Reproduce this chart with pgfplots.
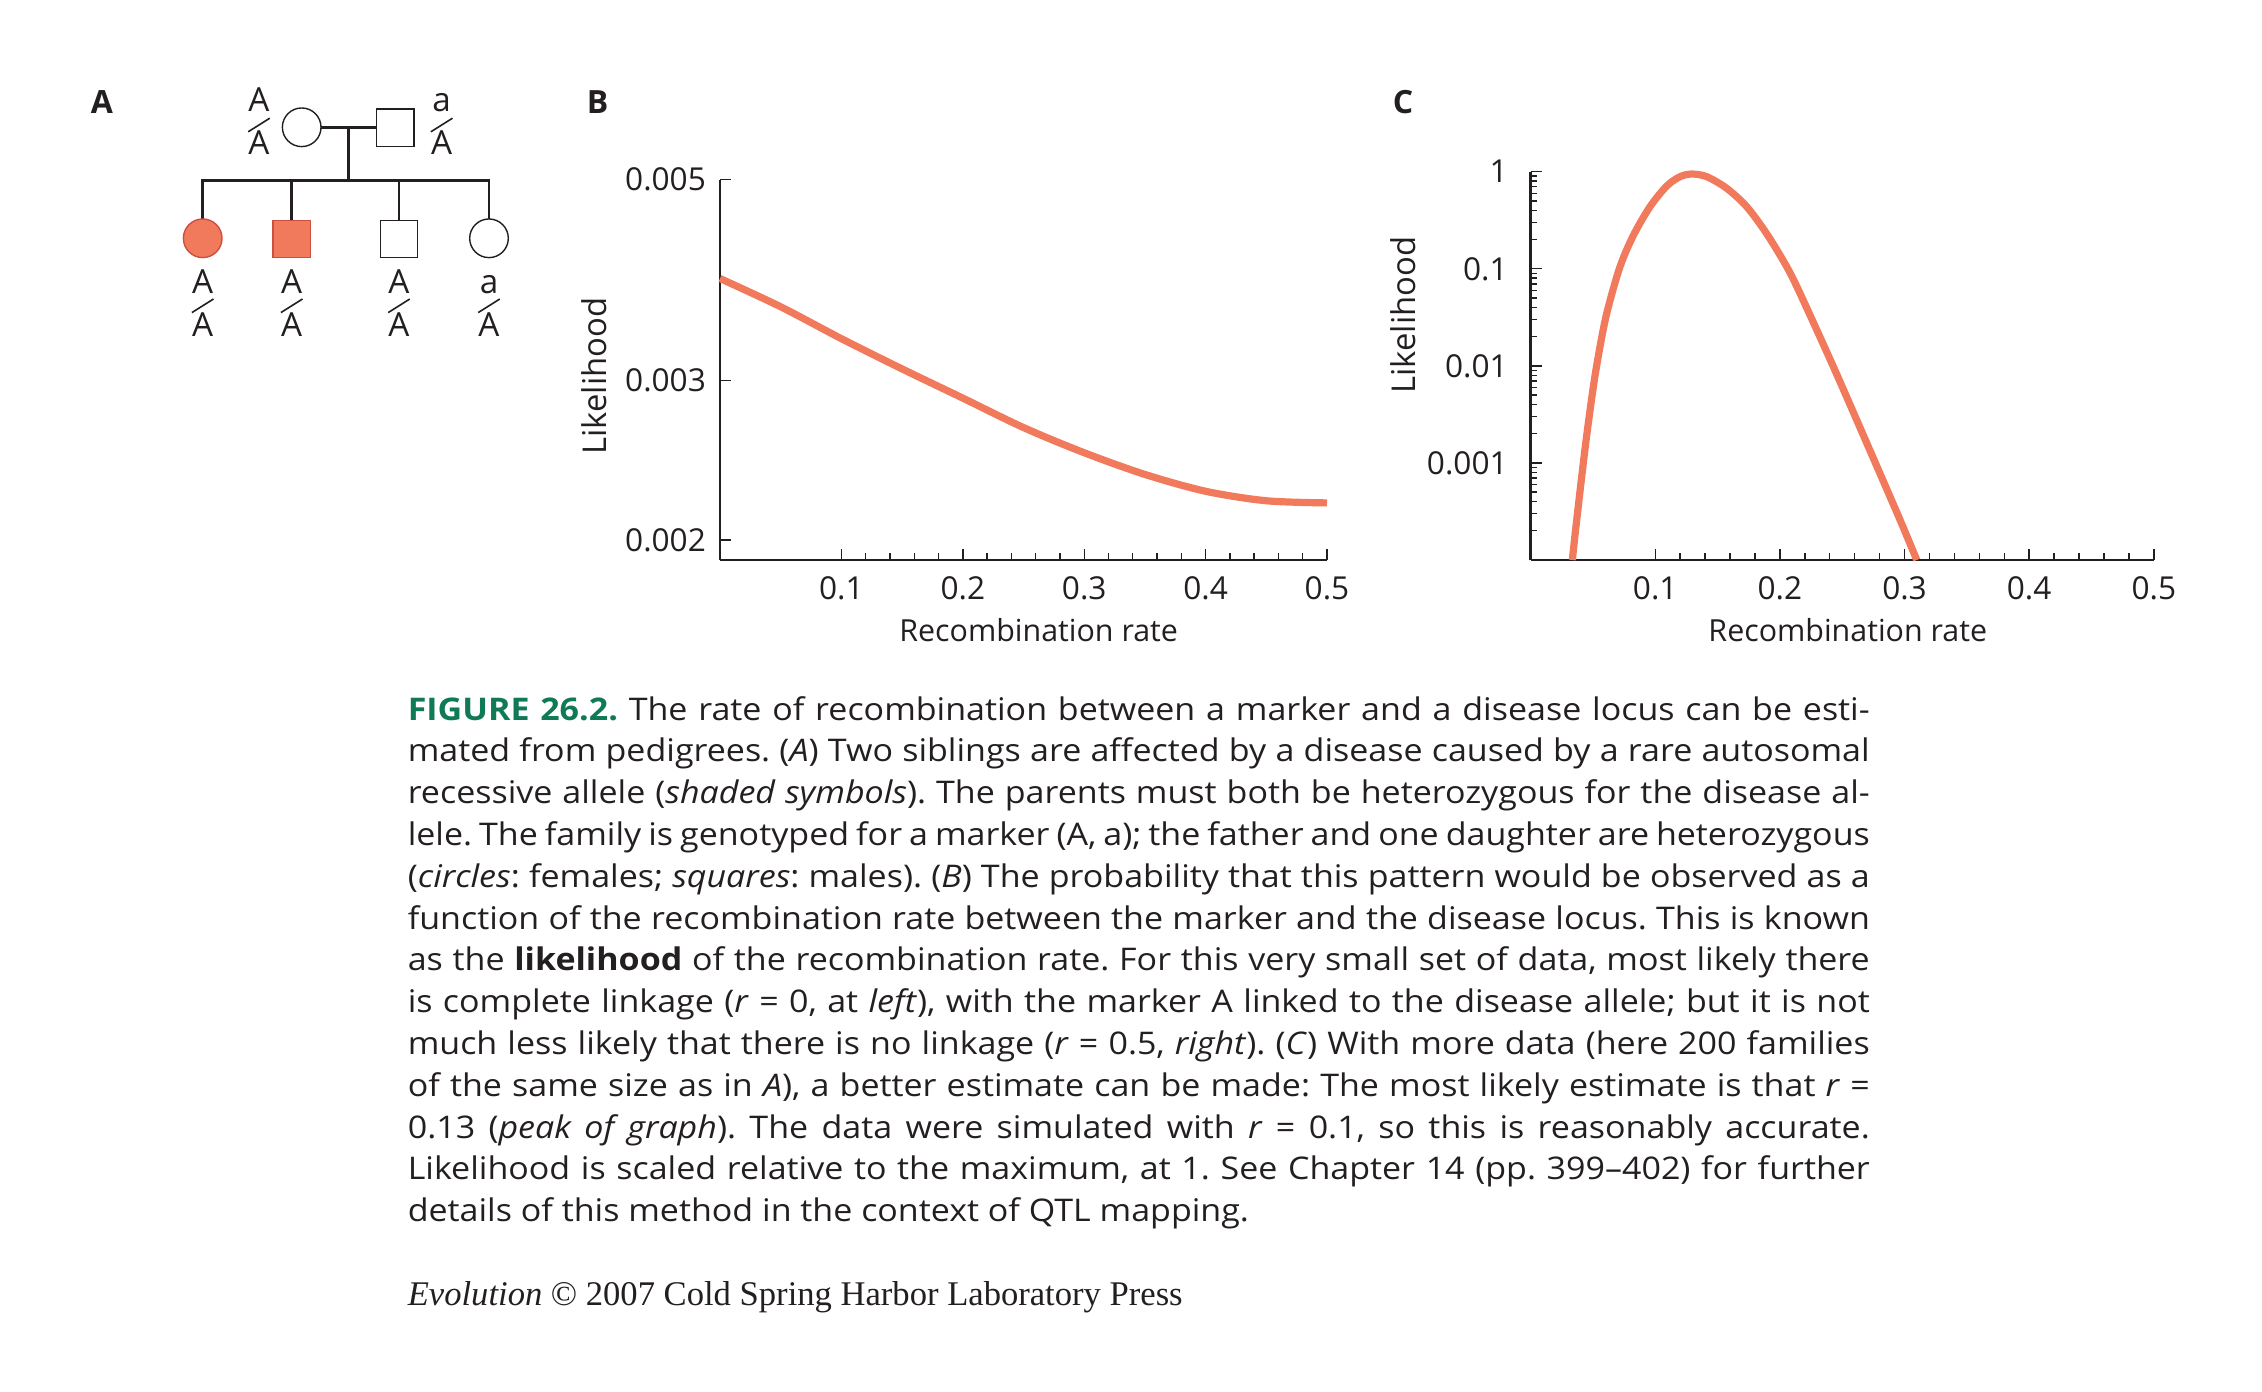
\documentclass[border=0pt]{standalone}
\usepackage{pgfplots}
\pgfplotsset{compat=1.18}
\usepackage{fontspec}
\setmainfont{Open Sans}
\setsansfont{Open Sans}
\newfontfamily\capfam{Open Sans}[FakeStretch=1.09]
\newfontfamily\crfont{Liberation Serif}
\definecolor{salmon}{RGB}{241,122,92}
\definecolor{salmondark}{RGB}{205,80,62}
\definecolor{figgreen}{RGB}{16,122,86}
\definecolor{txt}{RGB}{35,31,32}
\newcommand{\axfont}{\fontsize{7.9}{9}\selectfont}
\newcommand{\pedfont}{\fontsize{8.3}{9}\selectfont}
\newcommand{\capfont}{\capfam\fontsize{7.8}{10.45}\selectfont\frenchspacing}
\newcommand{\capline}[2]{\node[anchor=base west, inner sep=0pt, text=txt, font=\capfont] at (101.75pt,#1) {\hbox to 365.5pt{#2}};}

\pgfplotstableread{
r L
0.00 0.003888
0.05 0.003618
0.10 0.003336
0.15 0.003089
0.20 0.002868
0.25 0.002661
0.30 0.002496
0.35 0.002362
0.40 0.002263
0.45 0.002209
0.50 0.002197
}\tableB

\pgfplotstableread{
r L
0.0335 0.0001
0.0360 0.00020
0.0423 0.0010
0.0470 0.0030
0.0525 0.0092
0.0605 0.0323
0.0715 0.103
0.0824 0.220
0.0958 0.436
0.1092 0.712
0.1199 0.889
0.1293 0.946
0.1413 0.889
0.1573 0.675
0.1734 0.436
0.1894 0.230
0.2055 0.105
0.2161 0.056
0.2429 0.0098
0.2697 0.0016
0.2964 0.000259
0.3098 0.0001
}\tableC

\pgfplotsset{
  panel/.style={
    scale only axis,
    axis lines=left,
    axis line style={-, line width=0.67pt, color=txt},
    every tick/.style={line width=0.35pt, color=txt},
    tick align=inside,
    major tick length=2.8pt,
    minor tick length=1.7pt,
    xmin=0, xmax=0.5,
    xtick={0.1,0.2,0.3,0.4,0.5},
    xticklabels={0.1,0.2,0.3,0.4,0.5},
    minor x tick num=4,
    ticklabel style={font=\axfont, text=txt},
    xticklabel style={yshift=-0.6pt},
    xlabel style={font=\fontsize{7.6}{9}\selectfont, text=txt},
    ylabel style={font=\fontsize{8.2}{9}\selectfont, text=txt},
  }
}

\begin{document}
\begin{tikzpicture}
\path[use as bounding box] (0pt,0pt) rectangle (565.5pt,-348pt);

% ---------- Panel A: pedigree ----------
\begin{axis}[at={(0pt,-348pt)}, anchor=south west, scale only axis,
  width=565.5pt, height=348pt, xmin=0, xmax=2262, ymin=-1392, ymax=0,
  hide axis, clip=false]
\addplot[txt, line width=0.67pt] coordinates {(321,-127.3) (376.7,-127.3)};
\addplot[txt, line width=0.67pt] coordinates {(348.3,-127.3) (348.3,-180.7)};
\addplot[txt, line width=0.67pt, line cap=rect] coordinates {(202.7,-219) (202.7,-180.7) (489,-180.7) (489,-219)};
\addplot[txt, line width=0.67pt] coordinates {(291.7,-180.7) (291.7,-220.5)};
\addplot[txt, line width=0.67pt] coordinates {(399,-180.7) (399,-220.5)};
\addplot[only marks, mark=*, mark size=4.83pt, mark options={fill=white, draw=txt, line width=0.35pt}] coordinates {(301.7,-127.3) (489,-238.3)};
\addplot[only marks, mark=square*, mark size=4.63pt, mark options={fill=white, draw=txt, line width=0.35pt}] coordinates {(395.3,-127.7) (399,-239)};
\addplot[only marks, mark=*, mark size=4.83pt, mark options={fill=salmon, draw=salmondark, line width=0.35pt}] coordinates {(202.7,-238.3)};
\addplot[only marks, mark=square*, mark size=4.63pt, mark options={fill=salmon, draw=salmondark, line width=0.35pt}] coordinates {(291.7,-239)};
% genotype slashes
\addplot[txt, line width=0.4pt] coordinates {(248.2,-131.8) (269.8,-118.2)};
\addplot[txt, line width=0.4pt] coordinates {(430.9,-131.8) (452.5,-118.2)};
\addplot[txt, line width=0.4pt] coordinates {(191.9,-312.6) (213.5,-299)};
\addplot[txt, line width=0.4pt] coordinates {(280.9,-312.6) (302.5,-299)};
\addplot[txt, line width=0.4pt] coordinates {(388.2,-312.6) (409.8,-299)};
\addplot[txt, line width=0.4pt] coordinates {(478.2,-312.6) (499.8,-299)};
% genotype letters
\begin{scope}[every node/.style={anchor=base, inner sep=0pt, text=txt, font=\pedfont}]
\node at (axis cs:259,-111.7) {A};
\node at (axis cs:259,-155) {A};
\node at (axis cs:441.7,-111.7) {a};
\node at (axis cs:441.7,-155) {A};
\node at (axis cs:202.7,-293.3) {A};
\node at (axis cs:202.7,-336.7) {A};
\node at (axis cs:291.7,-293.3) {A};
\node at (axis cs:291.7,-336.7) {A};
\node at (axis cs:399,-293.3) {A};
\node at (axis cs:399,-336.7) {A};
\node at (axis cs:489,-293.3) {a};
\node at (axis cs:489,-336.7) {A};
\end{scope}
\end{axis}

% panel letters
\node[anchor=base west, inner sep=0pt, text=txt, font=\bfseries\fontsize{8}{9}\selectfont] at (22.5pt,-28.3pt) {A};
\node[anchor=base west, inner sep=0pt, text=txt, font=\bfseries\fontsize{8}{9}\selectfont] at (146.5pt,-28.3pt) {B};
\node[anchor=base west, inner sep=0pt, text=txt, font=\bfseries\fontsize{8}{9}\selectfont] at (348pt,-28.3pt) {C};

% ---------- Panel B ----------
\begin{axis}[ymode=log, panel, at={(180pt,-140pt)}, anchor=south west,
  width=151.75pt, height=95.125pt,
  ymin=0.0019, ymax=0.005,
  ytick={0.002,0.003,0.005}, yticklabels={0.002,0.003,0.005},
  yminorticks=false,
  xlabel={Recombination rate}, ylabel={Likelihood},
  xlabel style={at={(axis description cs:0.525,-0.185)}, anchor=center},
  ylabel style={at={(axis description cs:-0.207,0.4836)}, anchor=center},
  clip=false]
\addplot[salmon, line width=1.8pt, smooth] table[x=r, y=L] {\tableB};
\end{axis}

% ---------- Panel C ----------
\begin{axis}[ymode=log, panel, at={(382.65pt,-140pt)}, anchor=south west,
  width=155.8pt, height=97.075pt,
  ymin=0.0001, ymax=1,
  ytick={0.001,0.01,0.1,1}, yticklabels={0.001,0.01,0.1,1},
  minor ytick={2e-4,3e-4,4e-4,5e-4,6e-4,7e-4,8e-4,9e-4,2e-3,3e-3,4e-3,5e-3,6e-3,7e-3,8e-3,9e-3,0.02,0.03,0.04,0.05,0.06,0.07,0.08,0.09,0.2,0.3,0.4,0.5,0.6,0.7,0.8,0.9},
  yticklabel style={xshift=-2.2pt},
  xlabel={Recombination rate}, ylabel={Likelihood},
  xlabel style={at={(axis description cs:0.509,-0.1813)}, anchor=center},
  ylabel style={at={(axis description cs:-0.2047,0.631)}, anchor=center},
  clip=false]
\addplot[salmon, line width=1.8pt, smooth] table[x=r, y=L] {\tableC};
\end{axis}

% ---------- Caption ----------
\capline{-180pt}{{\color{figgreen}\bfseries FIGURE 26.2.} The rate of recombination between a marker and a disease locus can be esti-}
\capline{-190.45pt}{mated from pedigrees. (\textit{A}) Two siblings are affected by a disease caused by a rare autosomal}
\capline{-200.9pt}{recessive allele (\textit{shaded symbols}). The parents must both be heterozygous for the disease al-}
\capline{-211.35pt}{lele. The family is genotyped for a marker (A, a); the father and one daughter are heterozygous}
\capline{-221.8pt}{(\textit{circles}: females; \textit{squares}: males). (\textit{B}) The probability that this pattern would be observed as a}
\capline{-232.25pt}{function of the recombination rate between the marker and the disease locus. This is known}
\capline{-242.7pt}{as the \textbf{likelihood} of the recombination rate. For this very small set of data, most likely there}
\capline{-253.15pt}{is complete linkage (\textit{r} = 0, at \textit{left}), with the marker A linked to the disease allele; but it is not}
\capline{-263.6pt}{much less likely that there is no linkage (\textit{r} = 0.5, \textit{right}). (\textit{C}) With more data (here 200 families}
\capline{-274.05pt}{of the same size as in \textit{A}), a better estimate can be made: The most likely estimate is that \textit{r} =}
\capline{-284.5pt}{0.13 (\textit{peak of graph}). The data were simulated with \textit{r} = 0.1, so this is reasonably accurate.}
\capline{-294.95pt}{Likelihood is scaled relative to the maximum, at 1. See Chapter 14 (pp. 399–402) for further}
\node[anchor=base west, inner sep=0pt, text=txt, font=\capfont] at (101.75pt,-305.4pt) {details of this method in the context of QTL mapping.};

\node[anchor=base west, inner sep=0pt, text=txt, font=\crfont\fontsize{8.65}{10}\selectfont] at (101.75pt,-326.25pt) {\textit{Evolution} © 2007 Cold Spring Harbor Laboratory Press};
\end{tikzpicture}
\end{document}
